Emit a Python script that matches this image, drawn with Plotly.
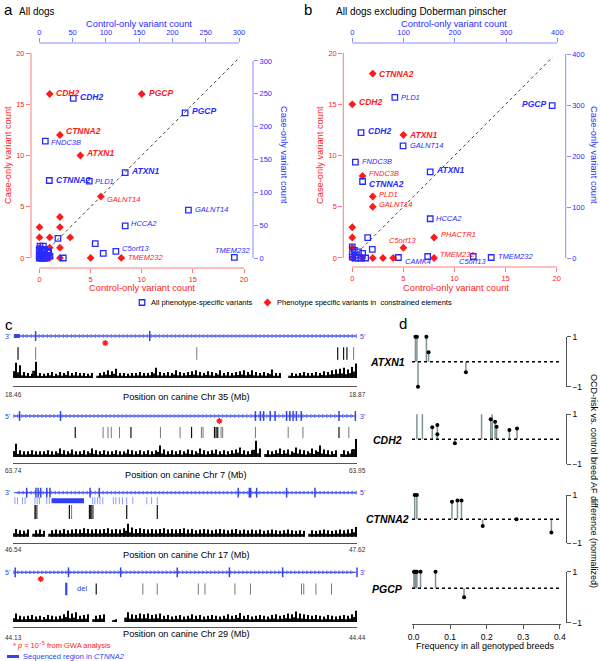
import numpy as np
import plotly.graph_objects as go

W, H = 600, 661
FONT = "Liberation Sans, Arial, sans-serif"
RED = "#FF1A1A"
RED_AX = "#FF7A7A"
BLUE = "#2A2AFF"
BLUE_AX = "#8A8AFF"
GENE_BLUE = "#3344EE"
GREY = "#555555"

def fx(px):
    return px / W

def fy(py):
    return 1 - py / H

# ---------------- DATA ----------------
# Panel a: all dogs
a_red_gene = ["CDH2", "PGCP", "CTNNA2", "ATXN1", "GALNT14", "TMEM232"]
a_red_ctrl = [1, 10, 2, 4, 6, 8]
a_red_case = [16, 16, 12, 10, 6, 0]
a_red_bold = [True, True, True, True, False, False]
a_red_oth_ctrl = [0, 0, 0, 0, 1, 1, 1, 2, 2, 2, 2, 3, 5]
a_red_oth_case = [3, 2, 1, 0, 2, 1, 0, 4, 3, 1, 0, 2, 0]

a_blue_gene = ["CDH2", "PGCP", "FNDC3B", "CTNNA2", "PLD1", "ATXN1", "GALNT14", "HCCA2", "C5orf13", "TMEM232"]
a_blue_ctrl = [51, 219, 9, 15, 75, 129, 224, 129, 115, 293]
a_blue_case = [243, 221, 178, 118, 117, 130, 73, 49, 10, 1]
a_blue_bold = [True, True, False, True, False, True, False, False, False, False]
a_blue_oth_ctrl = [84, 96, 28, 36, 0, 2, 4, 6, 8, 10, 0, 2, 0, 3, 5, 0, 8, 12, 14, 10, 5, 1, 6, 13, 16]
a_blue_oth_case = [22, 7, 30, 0, 0, 0, 0, 0, 0, 0, 3, 5, 8, 10, 12, 13, 13, 4, 8, 2, 6, 18, 18, 10, 3]

# Panel b: excluding Doberman pinscher
b_red_gene = ["CTNNA2", "CDH2", "ATXN1", "FNDC3B", "PLD1", "GALNT14", "PHACTR1", "C5orf13", "TMEM232"]
b_red_ctrl = [2, 0, 5, 1, 2, 2, 8, 5, 8]
b_red_case = [18, 15, 12, 8, 6, 5, 2, 1, 0]
b_red_bold = [True, True, True, False, False, False, False, False, False]
b_red_oth_ctrl = [0, 0, 0, 0, 1, 2, 3, 4]
b_red_oth_case = [3, 2, 1, 0, 0, 0, 0, 0]

b_blue_gene = ["PLD1", "PGCP", "CDH2", "GALNT14", "FNDC3B", "CTNNA2", "ATXN1", "HCCA2", "CAMK4", "C5orf13", "TMEM232"]
b_blue_ctrl = [83, 390, 17, 99, 6, 20, 152, 152, 147, 236, 271]
b_blue_case = [315, 299, 246, 220, 188, 150, 169, 77, 3, 3, 1]
b_blue_bold = [False, True, True, False, False, True, True, False, False, False, False]
b_blue_oth_ctrl = [30, 39, 90, 0, 4, 12, 0, 6, 0, 6, 12, 18, 26, 20]
b_blue_oth_case = [40, 17, 1, 22, 15, 12, 8, 5, 2, 0, 0, 0, 0, 9]

# Panel c: genomic tracks (positions in Mb)
c_chr = ["35", "7", "17", "29"]
c_gene = ["ATXN1", "CDH2", "CTNNA2", "PGCP"]
c_start = [18.46, 63.74, 46.54, 44.13]
c_end = [18.87, 63.95, 47.62, 44.44]
c_left_end = ["3'", "5'", "3'", "5'"]
c_right_end = ["5'", "3'", "5'", "3'"]

t1_exons = [18.487, 18.623]
t1_block = [18.461, 18.468]
t1_star = [18.570]
t1_var_dark = [18.466, 18.847, 18.854, 18.858]
t1_var_light = [18.487, 18.679, 18.866]
t1_cons = [0.9, 0.75, 0.35, 0.3, 0.25, 0.95, 0.3, 0.25, 0.3, 0.35, 0.25, 0.35, 0.3, 0.4, 0.3,
           0.35, 0.3, 0.3, 0.25, 0.3, 0.0, 0.3, 0.35, 0.45, 0.4, 0.55, 0.3, 0.3, 0.25, 0.3,
           0.3, 0.35, 0.3, 0.3, 0.35, 0.6, 0.35, 0.3, 0.35, 0.3, 0.45, 0.35, 0.3, 0.35, 0.4,
           0.45, 0.35, 0.3, 0.4, 0.35, 0.3, 0.45, 0.3, 0.35, 0.3, 0.35, 0.4, 0.45, 0.35, 0.45,
           0.35, 0.3, 0.35, 0.3, 0.5, 0.3, 0.3, 0.0, 0.0, 0.3, 0.25, 0.3, 0.35, 0.3, 0.3,
           0.35, 0.3, 0.4, 0.35, 0.45, 0.5, 0.55, 0.6, 0.5, 0.65, 0.85]

t2_exons = [63.744, 63.769, 63.888, 63.891, 63.893, 63.897, 63.900, 63.907, 63.909, 63.911,
            63.913, 63.916, 63.939, 63.949]
t2_star = [63.866]
t2_var_dark = [63.778, 63.812, 63.849, 63.863, 63.864, 63.865, 63.939]
t2_var_light = [63.795, 63.798, 63.800, 63.805, 63.830, 63.842, 63.855, 63.856, 63.867,
                63.868, 63.888, 63.908, 63.917, 63.945]
t2_cons = [0.7, 0.35, 0.3, 0.3, 0.35, 0.3, 0.3, 0.3, 0.35, 0.3, 0.3, 0.45, 0.35, 0.3, 0.4,
           0.3, 0.3, 0.35, 0.3, 0.45, 0.35, 0.3, 0.35, 0.3, 0.3, 0.35, 0.3, 0.3, 0.4, 0.35,
           0.3, 0.35, 0.3, 0.35, 0.3, 0.35, 0.6, 0.4, 0.3, 0.35, 0.3, 0.35, 0.3, 0.4, 0.35,
           0.3, 0.45, 0.35, 0.3, 0.35, 0.4, 0.3, 0.35, 0.3, 0.35, 0.4, 0.5, 0.35, 0.3, 0.35,
           0.85, 0.45, 0.0, 0.35, 0.3, 0.35, 0.45, 0.35, 0.4, 0.3, 0.5, 0.4, 0.35, 0.3, 0.45,
           0.35, 0.6, 0.4, 0.35, 0.3, 0.35, 0.0, 0.35, 0.3, 0.4, 0.95]

t3_exons = [46.583, 46.612, 46.619, 46.627, 46.646, 46.656, 46.782, 46.811, 47.247, 47.282,
            47.286, 47.305, 47.399, 47.488]
t3_seq = [46.546, 46.554, 46.570, 46.578, 46.609, 46.616, 46.623, 46.646, 46.654, 46.790,
          46.797, 46.805, 46.813, 46.822, 46.855, 46.863, 46.874, 46.884, 46.897, 46.916,
          46.960, 46.975, 46.993]
t3_seq_block = [46.661, 46.763]
t3_var_dark = [46.609, 46.612, 46.717, 46.780, 46.784, 46.788, 46.897, 46.993]
t3_var_light = [46.616, 46.724, 46.792]
t3_cons = [0.6, 0.5, 0.45, 0.55, 0.0, 0.5, 0.55, 0.45, 0.0, 0.5, 0.55, 0.5, 0.6, 0.5, 0.55,
           0.6, 0.55, 0.65, 0.6, 0.55, 0.6, 0.55, 0.6, 0.65, 0.55, 0.6, 0.55, 0.65, 1.0, 0.7,
           0.6, 0.65, 0.6, 0.55, 0.6, 0.55, 0.6, 0.65, 0.55, 0.6, 0.55, 0.6, 0.65, 0.55, 0.6,
           0.5, 0.55, 0.6, 0.55, 0.5, 0.55, 0.6, 0.55, 0.5, 0.55, 0.6, 0.5, 0.55, 0.5, 0.55,
           0.5, 0.55, 0.45, 0.5, 0.55, 0.5, 0.45, 0.5, 0.55, 0.5, 0.45, 0.5, 0.45, 0.0, 0.5,
           0.45, 0.5, 0.55, 0.5, 0.45, 0.5, 0.55, 0.5, 0.55, 0.6, 0.75]

t4_exons = [44.132, 44.180, 44.227, 44.278, 44.325, 44.373, 44.440]
t4_star = [44.155]
t4_del = [44.178]
t4_var_dark = [44.205]
t4_var_light = [44.247, 44.260, 44.297, 44.303, 44.330, 44.344, 44.390, 44.392, 44.403,
                44.417, 44.441]
t4_cons = [0.6, 0.45, 0.4, 0.45, 0.5, 0.4, 0.45, 0.35, 0.5, 0.45, 0.4, 0.45, 0.55, 0.8, 0.6,
           0.7, 0.45, 0.5, 0.55, 0.0, 0.45, 0.5, 0.55, 0.0, 0.0, 0.2, 0.0, 0.0, 0.7, 0.55,
           0.5, 0.6, 0.55, 0.6, 0.5, 0.55, 0.6, 0.45, 0.5, 0.4, 0.45, 0.5, 0.4, 0.45, 0.55,
           0.45, 0.5, 0.4, 0.45, 0.5, 0.45, 0.4, 0.45, 0.55, 0.45, 0.5, 0.65, 0.45, 0.5, 0.4,
           0.45, 0.5, 0.45, 0.4, 0.5, 0.55, 0.45, 0.5, 0.6, 0.55, 0.75, 0.6, 0.55, 0.5, 0.45,
           0.5, 0.45, 0.4, 0.5, 0.45, 0.4, 0.45, 0.5, 0.45, 0.55, 0.8]

# Panel d: lollipops (frequency, normalised AF difference, dotted reference level)
d_gene = ["ATXN1", "CDH2", "CTNNA2", "PGCP"]
d_freq = [
    [0.005, 0.009, 0.012, 0.035, 0.041, 0.143],
    [0.009, 0.024, 0.051, 0.065, 0.065, 0.113, 0.186, 0.211, 0.215, 0.223, 0.227, 0.262, 0.283],
    [0.003, 0.009, 0.105, 0.120, 0.131, 0.189, 0.2815, 0.377],
    [0.001, 0.003, 0.005, 0.007, 0.009, 0.019, 0.060, 0.138],
]
d_diff = [
    [1, 1, -1, 1, 0.38, -0.42],
    [1.3, 1.3, 0.48, 0.57, 0.2, -0.16, 1.3, 0.8, 1.3, 0.7, 0.5, 0.37, 0.43],
    [1, 1, 0.72, 0.77, 0.77, -0.28, 0.0, -0.55],
    [1, 1, 1, 1, 1, 1, 1, 0.0],
]
d_ref = [0, 0, 0, 0.35]
d_xticks = [0.0, 0.1, 0.2, 0.3, 0.4]

# label placement (anchor, x shift px, y shift px) -- layout only
a_red_place = [("left", 4, 1), ("left", 5, 1), ("left", 4, 4), ("left", 3.5, 2), ("left", 4, -3), ("left", 4.5, 0)]
a_blue_place = [("left", 5, 1), ("left", 4.5, 2), ("left", 4, -1), ("left", 5, 1), ("left", 4, 0),
                ("left", 4, 2), ("left", 4.5, 1), ("left", 4, 2), ("left", 4.5, 3), ("center", -2, 7)]
b_red_place = [("left", 4.5, 0), ("left", 4.5, 2), ("left", 4, 0), ("left", 4, 3), ("left", 4, 1.5),
               ("left", 4, 2), ("left", 5, 3), ("center", 0, 7), ("left", 4.3, 3)]
b_blue_place = [("left", 4.6, 0), ("right", -4, 2), ("left", 4.7, 1.5), ("left", 5, 0), ("left", 4.7, 1),
                ("left", 4.4, -2), ("left", 4, 2), ("left", 4, 0), ("center", -9.5, -5.5),
                ("center", 0, -5.5), ("left", 4.7, 1.5)]

# ---------------- FIGURE ----------------
fig = go.Figure()
layout = dict(
    template="none",
    width=W, height=H, margin=dict(l=0, r=0, t=0, b=0, pad=0, autoexpand=False),
    paper_bgcolor="white", plot_bgcolor="rgba(0,0,0,0)",
    font=dict(family=FONT, size=9, color="black"),
    showlegend=False,
)
shapes, annots = [], []


def ann(text, xp, yp, size=9, color="black", xanchor="center", yanchor="middle", angle=0,
        xref="paper", yref="paper", xshift=0, yshift=0):
    annots.append(dict(text=text, x=xp, y=yp, xref=xref, yref=yref, showarrow=False,
                       font=dict(size=size, color=color, family=FONT),
                       xanchor=xanchor, yanchor=yanchor, textangle=angle,
                       xshift=xshift, yshift=yshift))


def axis_common(**kw):
    base = dict(showgrid=False, zeroline=False, automargin=False)
    base.update(kw)
    return base


def point_labels(names, bolds, xs, ys, place, xref, yref, color):
    for n, b, x, y, (anc, dx, dy) in zip(names, bolds, xs, ys, place):
        txt = "<b><i>%s</i></b>" % n if b else "<i>%s</i>" % n
        ann(txt, x, y, size=8.5 if b else 7.5, color=color, xanchor=anc, xref=xref, yref=yref,
            xshift=dx, yshift=dy)


def scatter_panel(k, geom, red, blue, red_ticks, blue_ticks, red_oth, blue_oth):
    left, right, top, bot = geom["px"]
    xr, yr, x2r, y2r = geom["ranges"]
    rx = "x%d" % k if k > 1 else "x"
    ry = "y%d" % k if k > 1 else "y"
    bx, by = "x%d" % (k + 1), "y%d" % (k + 1)
    rxl = "xaxis%d" % k if k > 1 else "xaxis"
    ryl = "yaxis%d" % k if k > 1 else "yaxis"
    bxl, byl = "xaxis%d" % (k + 1), "yaxis%d" % (k + 1)
    tf_r = dict(size=7.5, color=RED)
    tf_b = dict(size=7.5, color=BLUE)
    layout[rxl] = axis_common(domain=[fx(left), fx(right)], range=xr, anchor=ry, side="bottom",
                              tickvals=red_ticks, ticks="outside", ticklen=4, tickcolor=RED_AX,
                              tickfont=tf_r, showline=False)
    layout[ryl] = axis_common(domain=[fy(bot), fy(top)], range=yr, anchor=rx, side="left",
                              tickvals=red_ticks, ticks="outside", ticklen=4, tickcolor=RED_AX,
                              tickfont=tf_r, showline=False)
    layout[bxl] = axis_common(overlaying=rx, range=x2r, anchor=by, side="top",
                              tickvals=blue_ticks, ticks="outside", ticklen=4, tickcolor=BLUE_AX,
                              tickfont=tf_b, showline=False)
    layout[byl] = axis_common(overlaying=ry, range=y2r, anchor=bx, side="right",
                              tickvals=blue_ticks, ticks="outside", ticklen=4, tickcolor=BLUE_AX,
                              tickfont=tf_b, showline=False)
    shapes.append(dict(type="line", xref=rx, yref="paper", x0=red_ticks[0], x1=red_ticks[-1],
                       y0=fy(bot), y1=fy(bot), line=dict(color=RED_AX, width=1)))
    shapes.append(dict(type="line", xref="paper", yref=ry, x0=fx(left), x1=fx(left),
                       y0=red_ticks[0], y1=red_ticks[-1], line=dict(color=RED_AX, width=1)))
    shapes.append(dict(type="line", xref=bx, yref="paper", x0=blue_ticks[0], x1=blue_ticks[-1],
                       y0=fy(top), y1=fy(top), line=dict(color=BLUE_AX, width=1)))
    shapes.append(dict(type="line", xref="paper", yref=by, x0=fx(right), x1=fx(right),
                       y0=blue_ticks[0], y1=blue_ticks[-1], line=dict(color=BLUE_AX, width=1)))
    fig.add_trace(go.Scatter(x=[0.5, red_ticks[-1] * 0.98], y=[0.5, red_ticks[-1] * 0.98],
                             mode="lines", line=dict(color="#444444", width=1, dash="3px,3px"),
                             xaxis=rx, yaxis=ry, hoverinfo="skip"))
    sq = dict(symbol="square-open", size=5.5, color=BLUE, line=dict(width=1.3, color=BLUE))
    dm = dict(symbol="diamond", size=6, color=RED, line=dict(width=0))
    fig.add_trace(go.Scatter(x=blue_oth[0] + blue["x"], y=blue_oth[1] + blue["y"], mode="markers",
                             xaxis=bx, yaxis=by, marker=sq, cliponaxis=False))
    fig.add_trace(go.Scatter(x=red_oth[0] + red["x"], y=red_oth[1] + red["y"], mode="markers",
                             xaxis=rx, yaxis=ry, marker=dm, cliponaxis=False))
    point_labels(blue["names"], blue["bold"], blue["x"], blue["y"], blue["place"], bx, by, BLUE)
    point_labels(red["names"], red["bold"], red["x"], red["y"], red["place"], rx, ry, RED)


red_ticks = [0, 5, 10, 15, 20]
scatter_panel(1, dict(px=(31, 253, 43, 268),
                      ranges=([-0.83, 20.88], [-0.98, 20.98], [-12.5, 321], [-15.2, 327.4])),
              dict(names=a_red_gene, bold=a_red_bold, x=a_red_ctrl, y=a_red_case, place=a_red_place),
              dict(names=a_blue_gene, bold=a_blue_bold, x=a_blue_ctrl, y=a_blue_case, place=a_blue_place),
              red_ticks, [0, 50, 100, 150, 200, 250, 300],
              (a_red_oth_ctrl, a_red_oth_case), (a_blue_oth_ctrl, a_blue_oth_case))
scatter_panel(3, dict(px=(343.3, 565.7, 43, 267),
                      ranges=([-0.88, 20.88], [-0.88, 20.98], [-17.6, 416.4], [-17.6, 421.6])),
              dict(names=b_red_gene, bold=b_red_bold, x=b_red_ctrl, y=b_red_case, place=b_red_place),
              dict(names=b_blue_gene, bold=b_blue_bold, x=b_blue_ctrl, y=b_blue_case, place=b_blue_place),
              red_ticks, [0, 100, 200, 300, 400],
              (b_red_oth_ctrl, b_red_oth_case), (b_blue_oth_ctrl, b_blue_oth_case))

# titles panel a, b
ann("a", fx(2), fy(9), size=15, xanchor="left")
ann("All dogs", fx(17), fy(11), size=10, xanchor="left")
ann("b", fx(302), fy(9), size=15, xanchor="left")
ann("All dogs excluding Doberman pinscher", fx(334), fy(11), size=10, xanchor="left")
ann("Control-only variant count", fx(138.5), fy(24), size=9.3, color=BLUE)
ann("Control-only variant count", fx(454.5), fy(24), size=9.3, color=BLUE)
ann("Control-only variant count", fx(141.5), fy(288), size=9.3, color=RED)
ann("Control-only variant count", fx(456), fy(288), size=9.3, color=RED)
ann("Case-only variant count", fx(8), fy(155), size=9.3, color=RED, angle=-90)
ann("Case-only variant count", fx(284), fy(155), size=9.3, color=BLUE, angle=90)
ann("Case-only variant count", fx(320), fy(155), size=9.3, color=RED, angle=-90)
ann("Case-only variant count", fx(594), fy(155), size=9.3, color=BLUE, angle=90)

# legend (own pixel-space overlay axis)
layout["xaxis13"] = axis_common(domain=[0, 1], range=[0, W], visible=False, anchor="y13")
layout["yaxis13"] = axis_common(domain=[0, 1], range=[H, 0], visible=False, anchor="x13")
fig.add_trace(go.Scatter(x=[142], y=[302.5], mode="markers", xaxis="x13", yaxis="y13",
                         marker=dict(symbol="square-open", size=5.5, color=BLUE, line=dict(width=1.3, color=BLUE))))
fig.add_trace(go.Scatter(x=[267.5], y=[302.5], mode="markers", xaxis="x13", yaxis="y13",
                         marker=dict(symbol="diamond", size=6, color=RED)))
ann("All phenotype-specific variants", fx(149), fy(302.5), size=7.5, xanchor="left")
ann("Phenotype specific variants in  constrained elements", fx(274.5), fy(302.5), size=7.5, xanchor="left")

# ---------------- Panel c ----------------
tracks = [
    dict(gl=336, star=343, var=353.5, vh=9, hb=378, hmax=17, ax=386, top=329, lab=394, title=397),
    dict(gl=416, star=421, var=432.5, vh=8, hb=457, hmax=19, ax=462.7, top=409, lab=470.7, title=475),
    dict(gl=492.7, star=None, var=512, vh=10, hb=536.7, hmax=13, ax=543.3, top=486, lab=549.3, title=555),
    dict(gl=572.3, star=579, var=589, vh=8, hb=622, hmax=14, ax=627, top=565, lab=637, title=634),
]
track_data = [
    dict(exons=t1_exons, block=t1_block, star=t1_star, dark=t1_var_dark, light=t1_var_light, cons=t1_cons),
    dict(exons=t2_exons, block=None, star=t2_star, dark=t2_var_dark, light=t2_var_light, cons=t2_cons),
    dict(exons=t3_exons, block=None, star=None, dark=t3_var_dark, light=t3_var_light, cons=t3_cons),
    dict(exons=t4_exons, block=None, star=t4_star, dark=t4_var_dark, light=t4_var_light, cons=t4_cons),
]
for i in range(4):
    g, d = tracks[i], track_data[i]
    k = 5 + i
    xa, ya = "x%d" % k, "y%d" % k
    s, e = c_start[i], c_end[i]
    Y = lambda py, g=g: g["ax"] - py
    layout["xaxis%d" % k] = axis_common(domain=[fx(13), fx(357)], range=[s, e], anchor=ya,
                                        showline=True, linecolor=GREY, linewidth=1, ticks="inside",
                                        tickvals=[s, e], ticklen=4, tickcolor=GREY, showticklabels=False)
    layout["yaxis%d" % k] = axis_common(domain=[fy(g["ax"]), fy(g["top"])], range=[0, g["ax"] - g["top"]],
                                        anchor=xa, visible=False)
    n = len(d["cons"])
    bw = (e - s) / n
    centers = [s + bw * (j + 0.5) for j in range(n)]
    hts = [v * g["hmax"] for v in d["cons"]]
    fig.add_trace(go.Bar(x=centers, y=[h * 0.45 for h in hts], base=Y(g["hb"]),
                         width=bw * 1.0, marker=dict(color="#111111", line=dict(width=0)),
                         xaxis=xa, yaxis=ya, hoverinfo="skip"))
    fig.add_trace(go.Bar(x=centers, y=hts, base=Y(g["hb"]),
                         width=bw * 0.35, marker=dict(color="black", line=dict(width=0)),
                         xaxis=xa, yaxis=ya, hoverinfo="skip"))
    gy = Y(g["gl"])
    fig.add_trace(go.Scatter(x=[s + 0.003 * (e - s), e - 0.002 * (e - s)], y=[gy, gy], mode="lines",
                             line=dict(color=GENE_BLUE, width=1), xaxis=xa, yaxis=ya, hoverinfo="skip"))
    chev = np.linspace(s + 0.01 * (e - s), e - 0.01 * (e - s), 85)
    sym = "arrow-left-open" if c_left_end[i] == "3'" else "arrow-right-open"
    fig.add_trace(go.Scatter(x=chev, y=[gy] * len(chev), mode="markers",
                             marker=dict(symbol=sym, size=3, color=GENE_BLUE, line=dict(width=0.6, color=GENE_BLUE)),
                             xaxis=xa, yaxis=ya, hoverinfo="skip"))
    fig.add_trace(go.Scatter(x=d["exons"], y=[gy] * len(d["exons"]), mode="markers",
                             marker=dict(symbol="line-ns", size=7, color=GENE_BLUE, line=dict(width=1.5, color=GENE_BLUE)),
                             xaxis=xa, yaxis=ya, hoverinfo="skip", cliponaxis=False))
    if d["block"]:
        fig.add_trace(go.Scatter(x=d["block"], y=[gy, gy], mode="lines", line=dict(color=GENE_BLUE, width=4),
                                 xaxis=xa, yaxis=ya, hoverinfo="skip"))
    ann(c_left_end[i], fx(7), fy(g["gl"]), size=7, color=GENE_BLUE)
    ann(c_right_end[i], fx(362), fy(g["gl"]), size=7, color=GENE_BLUE)
    if d["star"]:
        fig.add_trace(go.Scatter(x=d["star"], y=[Y(g["star"])], mode="markers",
                                 marker=dict(symbol="asterisk-open", size=5, color=RED, line=dict(width=1.3, color=RED)),
                                 xaxis=xa, yaxis=ya, hoverinfo="skip"))
    vy = Y(g["var"])
    fig.add_trace(go.Scatter(x=d["light"], y=[vy] * len(d["light"]), mode="markers",
                             marker=dict(symbol="line-ns", size=g["vh"], color="#777777", line=dict(width=1, color="#777777")),
                             xaxis=xa, yaxis=ya, hoverinfo="skip", cliponaxis=False))
    fig.add_trace(go.Scatter(x=d["dark"], y=[vy] * len(d["dark"]), mode="markers",
                             marker=dict(symbol="line-ns", size=g["vh"], color="#111111", line=dict(width=1.2, color="#111111")),
                             xaxis=xa, yaxis=ya, hoverinfo="skip", cliponaxis=False))
    ann("%.2f" % s, s, fy(g["lab"]), size=6.5, color="#333333", xref=xa)
    ann("%.2f" % e, e, fy(g["lab"]), size=6.5, color="#333333", xref=xa)
    ann("Position on canine Chr %s (Mb)" % c_chr[i], fx(186), fy(g["title"]), size=9.2)
    if i == 2:
        gy2 = Y(500.7)
        fig.add_trace(go.Scatter(x=t3_seq, y=[gy2] * len(t3_seq), mode="markers",
                                 marker=dict(symbol="line-ns", size=5, color="#8C9CFF", line=dict(width=1, color="#8C9CFF")),
                                 xaxis=xa, yaxis=ya, hoverinfo="skip"))
        fig.add_trace(go.Scatter(x=t3_seq_block, y=[gy2, gy2], mode="lines",
                                 line=dict(color="#3040F0", width=5),
                                 xaxis=xa, yaxis=ya, hoverinfo="skip"))
    if i == 3:
        fig.add_trace(go.Scatter(x=t4_del, y=[vy], mode="markers+text", text=["  del"],
                                 textposition="middle right", textfont=dict(size=7.5, color=GENE_BLUE),
                                 marker=dict(symbol="line-ns", size=9, color=GENE_BLUE, line=dict(width=2.2, color=GENE_BLUE)),
                                 xaxis=xa, yaxis=ya, hoverinfo="skip"))

ann("c", fx(3), fy(325), size=15, xanchor="left")
ann("* <i>p</i> ≈ 10<sup>−5</sup> from GWA analysis", fx(11), fy(645), size=7.5, color=RED, xanchor="left")
fig.add_trace(go.Scatter(x=[7, 19], y=[656.5, 656.5], mode="lines", xaxis="x13", yaxis="y13",
                         line=dict(color=GENE_BLUE, width=3), hoverinfo="skip"))
ann("Sequenced region in <i>CTNNA2</i>", fx(21), fy(656.5), size=7.5, color=GENE_BLUE, xanchor="left")

# ---------------- Panel d ----------------
d_geom = [(336.7, 386.7), (414.3, 464.3), (495, 543.3), (571.7, 622.7)]
d_label_y = [362, 440, 519, 589]
for i in range(4):
    k = 9 + i
    xa, ya = "x%d" % k, "y%d" % k
    top, bot = d_geom[i]
    layout["xaxis%d" % k] = axis_common(domain=[fx(412), fx(561)], range=[-0.0044, 0.4033],
                                        anchor=ya, visible=False)
    layout["yaxis%d" % k] = axis_common(domain=[fy(bot), fy(top)], range=[-1, 1], anchor="free",
                                        position=fx(565.7), side="right", showline=True, linecolor=GREY,
                                        ticks="outside", ticklen=4, tickcolor=GREY, tickvals=[-1, 1],
                                        ticktext=["−1", "1"], tickfont=dict(size=8.5))
    r0 = d_ref[i]
    shapes.append(dict(type="line", xref="%s domain" % xa, yref=ya, x0=0, x1=1, y0=r0, y1=r0,
                       line=dict(color="black", width=1.5, dash="dot")))
    sx, sy = [], []
    for f, v in zip(d_freq[i], d_diff[i]):
        sx += [f, f, None]
        sy += [r0, v, None]
    fig.add_trace(go.Scatter(x=sx, y=sy, mode="lines", line=dict(color="#7E9494", width=1.5),
                             xaxis=xa, yaxis=ya, hoverinfo="skip", cliponaxis=False))
    fig.add_trace(go.Scatter(x=d_freq[i], y=d_diff[i], mode="markers",
                             marker=dict(color="black", size=4), xaxis=xa, yaxis=ya, cliponaxis=False))
    ann("<b><i>%s</i></b>" % d_gene[i], fx(387), fy(d_label_y[i]), size=10.5)

layout["xaxis12"].update(visible=True, showline=True, linecolor=GREY, ticks="outside", ticklen=4,
                         tickcolor=GREY, tickvals=d_xticks, tickformat=".1f", anchor="free",
                         position=fy(624.3), tickfont=dict(size=8.5))
ann("d", fx(397), fy(323), size=15, xanchor="left")
ann("Frequency in all genotyped breeds", fx(485), fy(646), size=9)
ann("OCD-risk vs. control breed AF difference (normalized)", fx(594), fy(481), size=9, angle=90)

layout["shapes"] = shapes
layout["annotations"] = annots
fig.update_layout(**layout)
fig.write_html("out.html", config={"displayModeBar": False},
               post_script="document.body.style.margin='0px';document.body.style.overflow='hidden';")
